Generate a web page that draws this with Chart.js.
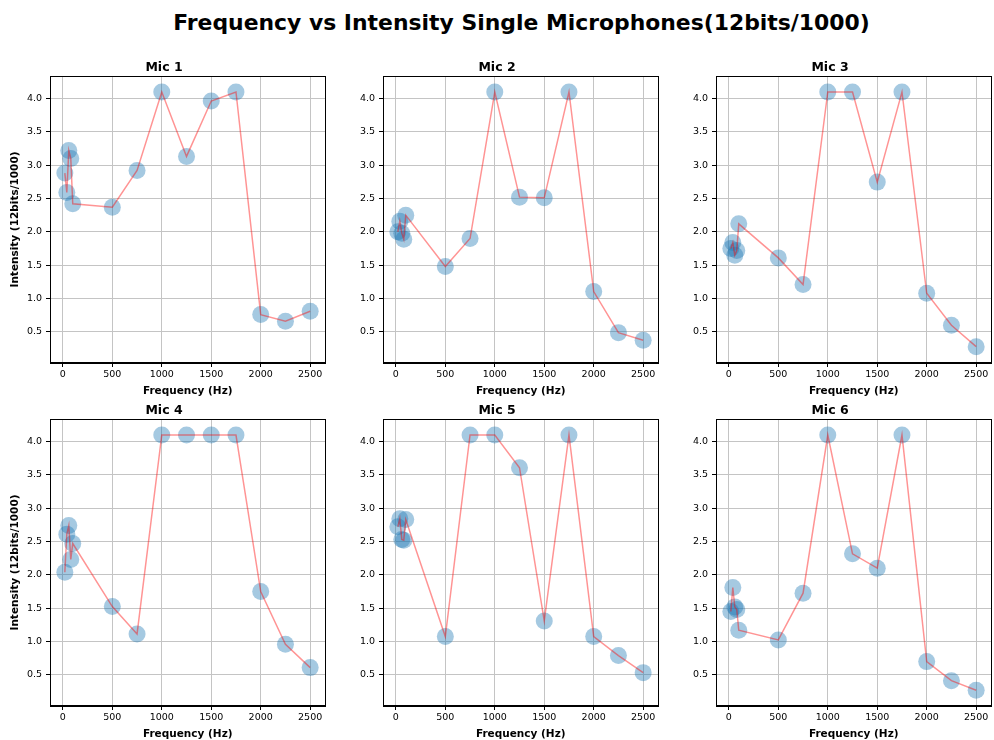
<!DOCTYPE html>
<html>
<head>
<meta charset="utf-8">
<script src="https://cdn.jsdelivr.net/npm/chart.js@4.4.0/dist/chart.umd.min.js"></script>
<style>
  html, body { margin: 0; padding: 0; background: #fff; width: 994px; height: 740px; overflow: hidden; }
  #title { position: absolute; left: 0; width: 1043px; top: 8px; text-align: center;
           font-family: "DejaVu Sans", sans-serif; font-weight: bold; font-size: 21.9px; color: #000; line-height: 30px; }
  .cv { position: absolute; }
</style>
</head>
<body>
<div id="title">Frequency vs Intensity Single Microphones(12bits/1000)</div>
<script>
const freq = [20, 40, 60, 80, 100, 500, 750, 1000, 1250, 1500, 1750, 2000, 2250, 2500];
const mic1 = [2.88, 2.59, 3.22, 3.10, 2.42, 2.37, 2.92, 4.095, 3.13, 3.96, 4.095, 0.76, 0.66, 0.81];
const mic2 = [2.00, 2.16, 1.98, 1.89, 2.25, 1.48, 1.90, 4.095, 2.52, 2.51, 4.095, 1.105, 0.49, 0.375];
const mic3 = [1.75, 1.84, 1.65, 1.72, 2.12, 1.61, 1.21, 4.095, 4.095, 2.745, 4.095, 1.08, 0.60, 0.28];
const mic4 = [2.04, 2.61, 2.74, 2.23, 2.47, 1.525, 1.115, 4.095, 4.095, 4.095, 4.095, 1.75, 0.96, 0.61];
const mic5 = [2.72, 2.84, 2.53, 2.52, 2.83, 1.075, 4.095, 4.095, 3.605, 1.31, 4.095, 1.075, 0.79, 0.535];
const mic6 = [1.45, 1.81, 1.52, 1.48, 1.17, 1.025, 1.725, 4.095, 2.315, 2.10, 4.095, 0.70, 0.415, 0.27];
const micNames = ["Mic 1", "Mic 2", "Mic 3", "Mic 4", "Mic 5", "Mic 6"];
const xTicks = [0, 500, 1000, 1500, 2000, 2500];
const yTicks = [0.5, 1.0, 1.5, 2.0, 2.5, 3.0, 3.5, 4.0];
const xLabel = "Frequency (Hz)";
const yLabel = "Intensity (12bits/1000)";

const series = [mic1, mic2, mic3, mic4, mic5, mic6];
const colLeft = [50, 383, 716];
const rowTop = [76, 419];
const boxW = 277.5, boxH = 287;
const axW = 50, topH = 25, botH = 40, rightPad = 6;
const FONT = '"DejaVu Sans", sans-serif';

const frame = {
  id: 'frame',
  afterDraw(chart) {
    const {ctx, chartArea: a} = chart;
    ctx.save();
    ctx.strokeStyle = '#000';
    ctx.lineWidth = 1;
    ctx.strokeRect(Math.round(a.left) + 0.5, Math.round(a.top) + 0.5,
                   Math.round(a.right - a.left) - 1, Math.round(a.bottom - a.top) - 1);
    ctx.restore();
  }
};

series.forEach((vals, i) => {
  const col = i % 3, row = Math.floor(i / 3);
  const cv = document.createElement('canvas');
  cv.className = 'cv';
  const w = Math.round(axW + boxW + rightPad), h = topH + boxH + botH;
  cv.width = w; cv.height = h;
  cv.style.width = w + 'px'; cv.style.height = h + 'px';
  cv.style.left = (colLeft[col] - axW) + 'px';
  cv.style.top = (rowTop[row] - topH) + 'px';
  document.body.appendChild(cv);
  const pts = freq.map((f, k) => ({x: f, y: vals[k]}));
  const chart = new Chart(cv, {
    type: 'scatter',
    data: {
      datasets: [
        { data: pts, showLine: true, borderColor: 'rgba(255,0,0,0.42)', borderWidth: 1.5,
          pointRadius: 0, pointHoverRadius: 0, fill: false, tension: 0 },
        { data: pts, showLine: false, pointRadius: 8.5, pointHoverRadius: 8.5,
          backgroundColor: 'rgba(31,119,180,0.4)', borderWidth: 0, pointBorderWidth: 0 }
      ]
    },
    options: {
      responsive: false, animation: false, devicePixelRatio: 1,
      layout: { padding: { left: 0, right: rightPad, top: 0, bottom: 0 } },
      plugins: {
        legend: { display: false }, tooltip: { enabled: false },
        title: { display: true, text: micNames[i], color: '#000',
                 font: { family: FONT, weight: 'bold', size: 12.5, lineHeight: 1.2 },
                 padding: { top: 9, bottom: 1 } }
      },
      scales: {
        x: {
          type: 'linear', min: -130, max: 2655,
          afterFit(s) { s.height = botH; s.paddingLeft = 0; s.paddingRight = 0; },
          afterBuildTicks(s) { s.ticks = xTicks.map(v => ({value: v})); },
          ticks: { color: '#000', font: { family: FONT, size: 9.5 }, padding: 2,
                   maxRotation: 0, autoSkip: false, callback: v => String(v) },
          grid: { color: '#c4c4c4', lineWidth: 1, tickColor: '#000', tickLength: 4, drawTicks: true },
          border: { display: true, color: '#000', width: 1 },
          title: { display: true, text: xLabel, color: '#000',
                   font: { family: FONT, weight: 'bold', size: 10.5, lineHeight: 1.2 },
                   padding: { top: 0, bottom: 5 } }
        },
        y: {
          type: 'linear', min: 0.035, max: 4.335,
          afterFit(s) { s.width = axW; s.paddingTop = 0; s.paddingBottom = 0; },
          afterBuildTicks(s) { s.ticks = yTicks.map(v => ({value: v})); },
          ticks: { color: '#000', font: { family: FONT, size: 9.5 }, padding: 4,
                   autoSkip: false, callback: v => Number(v).toFixed(1) },
          grid: { color: '#c4c4c4', lineWidth: 1, tickColor: '#000', tickLength: 4, drawTicks: true },
          border: { display: true, color: '#000', width: 1 },
          title: { display: col === 0, text: yLabel, color: '#000',
                   font: { family: FONT, weight: 'bold', size: 10.5, lineHeight: 1.2 },
                   padding: { top: 9, bottom: 0 } }
        }
      }
    },
    plugins: [frame]
  });
  // calibrate canvas width so the plot box ends where the reference box ends
  const extra = (axW + boxW) - chart.chartArea.right;
  if (Math.abs(extra) > 0.25) {
    const nw = Math.round(w + extra);
    cv.style.width = nw + 'px';
    chart.resize(nw, h);
  }
});
</script>
</body>
</html>
